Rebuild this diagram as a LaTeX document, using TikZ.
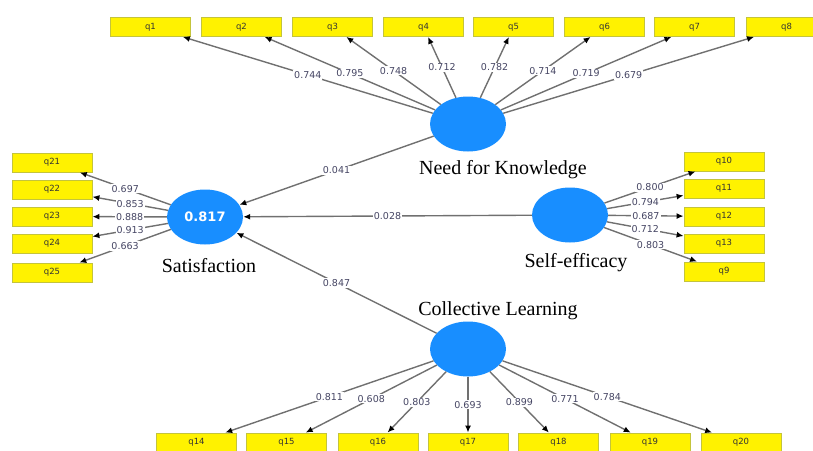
\documentclass[tikz,border=0pt]{standalone}
\usepackage{fontspec}
\setmainfont{Liberation Serif}
\newfontfamily\dejavu{DejaVu Sans}
\usetikzlibrary{arrows.meta,shapes}
\definecolor{plsblue}{RGB}{24,142,255}
\definecolor{boxline}{RGB}{196,196,60}
\definecolor{pathgray}{RGB}{112,112,112}
\definecolor{coeftext}{RGB}{70,70,100}
\tikzset{>={Latex[length=7pt,width=6pt,color=black]}}
\tikzstyle{item}=[rectangle,draw=boxline,fill=yellow,line width=0.8pt,minimum height=19pt,minimum width=80pt,inner sep=0pt,text=black!80,font=\dejavu\fontsize{8.5}{8.5}\selectfont]
\tikzstyle{latent}=[ellipse,fill=plsblue,minimum height=55pt,minimum width=76pt,inner sep=0pt,text=white,font=\dejavu\bfseries\fontsize{13}{13}\selectfont]
\tikzstyle{latname}=[anchor=base,inner sep=0pt,font=\fontsize{20}{20}\selectfont]
\tikzstyle{load}=[draw=pathgray,line width=1.4pt,->]
\tikzstyle{coef}=[fill=white,inner sep=1pt,text=coeftext,font=\dejavu\fontsize{9.5}{9.5}\selectfont]

\begin{document}
\begin{tikzpicture}[x=1pt,y=-1pt]
	\useasboundingbox (0,0) rectangle (813,450);
	\clip (0,0) rectangle (813,450);

	% latent variables
	\node[latent] (know) at (468,124) {};
	\node[latent] (sat) at (205,217) {0.817};
	\node[latent] (self) at (570,215) {};
	\node[latent] (coll) at (468,349) {};
	\node[latname] (knowtxt) at (503,174) {Need for Knowledge};
	\node[latname] (sattxt) at (209,272) {Satisfaction};
	\node[latname] (selftxt) at (576,267) {Self-efficacy};
	\node[latname] (colltxt) at (498,315) {Collective Learning};

	% indicators
	\node[item] (q1) at (150.5,27) {q1};
	\node[item] (q2) at (241.5,27) {q2};
	\node[item] (q3) at (332.5,27) {q3};
	\node[item] (q4) at (423.5,27) {q4};
	\node[item] (q5) at (513.5,27) {q5};
	\node[item] (q6) at (604.5,27) {q6};
	\node[item] (q7) at (694.5,27) {q7};
	\node[item] (q8) at (786.5,27) {q8};

	\node[item] (q21) at (52,162.5) {q21};
	\node[item] (q22) at (52,189.5) {q22};
	\node[item] (q23) at (52,216.5) {q23};
	\node[item] (q24) at (52,243.5) {q24};
	\node[item] (q25) at (52,272.5) {q25};

	\node[item] (q10) at (724,161.5) {q10};
	\node[item] (q11) at (724,188.5) {q11};
	\node[item] (q12) at (724,216.5) {q12};
	\node[item] (q13) at (724,243.5) {q13};
	\node[item] (q9) at (724,271.5) {q9};

	\node[item] (q14) at (196.5,442.5) {q14};
	\node[item] (q15) at (286.5,442.5) {q15};
	\node[item] (q16) at (378,442.5) {q16};
	\node[item] (q17) at (468,442.5) {q17};
	\node[item] (q18) at (558.5,442.5) {q18};
	\node[item] (q19) at (650,442.5) {q19};
	\node[item] (q20) at (741,442.5) {q20};

	% structural paths
	\draw[load] (know) -- node[coef] {0.041} (sat);
	\draw[load] (self) -- node[coef] {0.028} (sat);
	\draw[load] (coll) -- node[coef] {0.847} (sat);

	% outer loadings
	\draw[load] (know) -- node[coef] {0.744} (q1);
	\draw[load] (know) -- node[coef] {0.795} (q2);
	\draw[load] (know) -- node[coef] {0.748} (q3);
	\draw[load] (know) -- node[coef] {0.712} (q4);
	\draw[load] (know) -- node[coef] {0.782} (q5);
	\draw[load] (know) -- node[coef] {0.714} (q6);
	\draw[load] (know) -- node[coef] {0.719} (q7);
	\draw[load] (know) -- node[coef] {0.679} (q8);

	\draw[load] (sat) -- node[coef] {0.697} (q21);
	\draw[load] (sat) -- node[coef] {0.853} (q22);
	\draw[load] (sat) -- node[coef] {0.888} (q23);
	\draw[load] (sat) -- node[coef] {0.913} (q24);
	\draw[load] (sat) -- node[coef] {0.663} (q25);

	\draw[load] (self) -- node[coef] {0.800} (q10);
	\draw[load] (self) -- node[coef] {0.794} (q11);
	\draw[load] (self) -- node[coef] {0.687} (q12);
	\draw[load] (self) -- node[coef] {0.712} (q13);
	\draw[load] (self) -- node[coef] {0.803} (q9);

	\draw[load] (coll) -- node[coef] {0.811} (q14);
	\draw[load] (coll) -- node[coef] {0.608} (q15);
	\draw[load] (coll) -- node[coef] {0.803} (q16);
	\draw[load] (coll) -- node[coef] {0.693} (q17);
	\draw[load] (coll) -- node[coef] {0.899} (q18);
	\draw[load] (coll) -- node[coef] {0.771} (q19);
	\draw[load] (coll) -- node[coef] {0.784} (q20);
\end{tikzpicture}
\end{document}
